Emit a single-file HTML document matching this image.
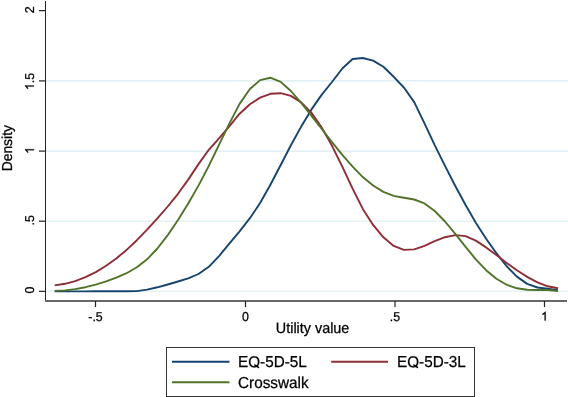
<!DOCTYPE html>
<html><head><meta charset="utf-8">
<title>Density of utility values</title>
<style>
html,body{margin:0;padding:0;background:#fff;}
body{width:568px;height:397px;overflow:hidden;}
svg{display:block;will-change:transform;}
text{text-rendering:geometricPrecision;font-family:"Liberation Sans",sans-serif;fill:#000;stroke:#000;stroke-width:0.25px;}
tspan.h{fill-opacity:0;stroke-opacity:0;}
path{fill:#000;stroke:#000;}
</style></head>
<body>
<svg width="568" height="397" viewBox="0 0 568 397">
<rect x="0" y="0" width="568" height="397" fill="#fff"/>
<g stroke="#d9ecef" stroke-width="1.1">
<line x1="46" y1="80.9" x2="568" y2="80.9"/>
<line x1="46" y1="151.1" x2="568" y2="151.1"/>
<line x1="46" y1="221.2" x2="568" y2="221.2"/>
<line x1="46" y1="291.3" x2="568" y2="291.3"/>
</g>
<g fill="none" stroke-width="1.9" stroke-linejoin="round" stroke-linecap="butt">
<polyline stroke="#15446f" points="54.7,291.4 65.0,291.4 75.2,291.4 85.5,291.4 95.8,291.3 106.1,291.3 116.3,291.3 126.6,291.3 136.9,291.1 147.1,289.6 157.4,287.3 167.7,284.5 178.0,281.5 188.2,278.4 198.5,274.0 208.8,266.8 219.0,256.1 229.3,243.7 239.6,231.3 249.9,218.2 260.1,203.0 270.4,184.8 280.7,165.0 290.9,145.3 301.2,126.6 311.5,109.4 321.8,94.6 332.0,82.0 342.3,68.5 352.6,59.0 362.8,58.0 373.1,60.6 383.4,66.8 393.7,76.8 403.9,87.5 414.2,102.1 424.5,123.3 434.7,145.1 445.0,165.9 455.3,186.0 465.6,205.0 475.8,222.7 486.1,238.7 496.4,253.2 506.6,266.1 516.9,276.6 527.2,283.9 537.5,287.5 547.7,288.8 558.0,290.1"/>
<polyline stroke="#8e2d37" points="54.7,285.4 65.0,283.8 75.2,281.1 85.5,277.2 95.8,272.1 106.1,265.8 116.3,258.4 126.6,249.9 136.9,240.2 147.1,229.6 157.4,218.3 167.7,206.5 178.0,193.8 188.2,179.6 198.5,164.1 208.8,149.8 219.0,138.4 229.3,126.3 239.6,113.7 249.9,104.3 260.1,97.6 270.4,93.8 280.7,93.2 290.9,95.9 301.2,102.4 311.5,112.9 321.8,127.6 332.0,145.8 342.3,166.6 352.6,188.6 362.8,208.9 373.1,224.9 383.4,237.3 393.7,245.9 403.9,249.9 414.2,249.4 424.5,245.8 434.7,241.2 445.0,237.2 455.3,235.1 465.6,236.1 475.8,240.6 486.1,247.4 496.4,255.1 506.6,262.9 516.9,270.3 527.2,276.9 537.5,282.4 547.7,286.3 558.0,288.2"/>
<polyline stroke="#517329" points="54.7,290.9 65.0,290.4 75.2,289.1 85.5,287.2 95.8,284.6 106.1,281.4 116.3,277.6 126.6,273.2 136.9,267.3 147.1,259.3 157.4,248.5 167.7,235.2 178.0,220.0 188.2,203.5 198.5,185.6 208.8,165.9 219.0,144.8 229.3,123.6 239.6,103.9 249.9,89.0 260.1,80.1 270.4,77.7 280.7,81.9 290.9,91.0 301.2,102.9 311.5,115.8 321.8,129.0 332.0,142.2 342.3,154.9 352.6,166.7 362.8,177.1 373.1,185.5 383.4,191.9 393.7,195.9 403.9,197.8 414.2,199.5 424.5,203.4 434.7,211.0 445.0,221.5 455.3,233.8 465.6,246.8 475.8,259.3 486.1,270.2 496.4,278.7 506.6,284.7 516.9,288.3 527.2,289.8 537.5,290.0 547.7,290.0 558.0,291.0"/>
</g>
<rect x="45" y="1" width="1" height="300" fill="#222"/>
<rect x="45" y="300" width="522" height="2" fill="#666"/>
<g stroke="#222" stroke-width="1.2">
<line x1="39" y1="10.6" x2="45" y2="10.6"/>
<line x1="39" y1="80.9" x2="45" y2="80.9"/>
<line x1="39" y1="151.1" x2="45" y2="151.1"/>
<line x1="39" y1="221.2" x2="45" y2="221.2"/>
<line x1="39" y1="291.3" x2="45" y2="291.3"/>
<line x1="95.5" y1="301" x2="95.5" y2="307"/>
<line x1="245.5" y1="301" x2="245.5" y2="307"/>
<line x1="395" y1="301" x2="395" y2="307"/>
<line x1="544.5" y1="301" x2="544.5" y2="307"/>
</g>
<g transform="translate(33.9,9.9) rotate(-90) scale(1,1.04)"><text x="-3.448" y="0" font-size="12.4">2</text></g>
<g transform="translate(33.9,81.5) rotate(-90) scale(1,1.04)"><text x="-8.619" y="0" font-size="12.4"><tspan class="h">1</tspan>.5</text><path d="M763 0H583V1147Q518 1085 412.5 1023T223 930V1104Q375 1175 489 1276T650 1466H763Z" transform="translate(-8.619,0) scale(0.006055,-0.005822)" stroke-width="41.3"/></g>
<g transform="translate(33.9,150.4) rotate(-90) scale(1,1.04)"><text x="-3.448" y="0" font-size="12.4"><tspan class="h">1</tspan></text><path d="M763 0H583V1147Q518 1085 412.5 1023T223 930V1104Q375 1175 489 1276T650 1466H763Z" transform="translate(-3.448,0) scale(0.006055,-0.005822)" stroke-width="41.3"/></g>
<g transform="translate(33.9,220.4) rotate(-90) scale(1,1.04)"><text x="-5.171" y="0" font-size="12.4">.5</text></g>
<g transform="translate(33.9,290.05) rotate(-90) scale(1,1.04)"><text x="-3.448" y="0" font-size="12.4">0</text></g>
<g transform="translate(12.4,148.2) rotate(-90) scale(1,1.04)"><text x="-23.175" y="0" font-size="13.9">Density</text></g>
<g transform="translate(95.5,320.6) scale(1,1.04)"><text x="-7.235" y="0" font-size="12.4">-.5</text></g>
<g transform="translate(245.5,320.6) scale(1,1.04)"><text x="-3.448" y="0" font-size="12.4">0</text></g>
<g transform="translate(395,320.6) scale(1,1.04)"><text x="-5.171" y="0" font-size="12.4">.5</text></g>
<g transform="translate(544.5,320.6) scale(1,1.04)"><text x="-3.448" y="0" font-size="12.4"><tspan class="h">1</tspan></text><path d="M763 0H583V1147Q518 1085 412.5 1023T223 930V1104Q375 1175 489 1276T650 1466H763Z" transform="translate(-3.448,0) scale(0.006055,-0.005822)" stroke-width="41.3"/></g>
<g transform="translate(275.8,333.3) scale(1,1.04)"><text x="0.000" y="0" font-size="14.4">Utility value</text></g>
<rect x="166.5" y="347.5" width="308" height="49" fill="none" stroke="#333" stroke-width="1"/>
<g stroke-width="2">
<line x1="172" y1="361.8" x2="229.5" y2="361.8" stroke="#15446f"/>
<line x1="331.2" y1="361.8" x2="388" y2="361.8" stroke="#8e2d37"/>
<line x1="172" y1="382.2" x2="229.5" y2="382.2" stroke="#517329"/>
</g>
<g transform="translate(238,367.3) scale(1,1.04)"><text x="0.000" y="0" font-size="15.3">E<tspan class="h">Q</tspan>-5D-5L</text><path d="M1495 711Q1495 490 1410.5 324.0Q1326 158 1168.0 69.0Q1010 -20 795 -20Q578 -20 420.5 68.0Q263 156 180.0 322.5Q97 489 97 711Q97 1049 282.0 1239.5Q467 1430 797 1430Q1012 1430 1170.0 1344.5Q1328 1259 1411.5 1096.0Q1495 933 1495 711ZM1300 711Q1300 974 1168.5 1124.0Q1037 1274 797 1274Q555 1274 423.0 1126.0Q291 978 291 711Q291 446 424.5 290.5Q558 135 795 135Q1039 135 1169.5 285.5Q1300 436 1300 711ZM784 268 L876 405 L1476 30 L1384 -107Z" transform="translate(10.205,0) scale(0.007471,-0.007471)" stroke-width="33.5"/></g>
<g transform="translate(397,367.3) scale(1,1.04)"><text x="0.000" y="0" font-size="15.3">E<tspan class="h">Q</tspan>-5D-3L</text><path d="M1495 711Q1495 490 1410.5 324.0Q1326 158 1168.0 69.0Q1010 -20 795 -20Q578 -20 420.5 68.0Q263 156 180.0 322.5Q97 489 97 711Q97 1049 282.0 1239.5Q467 1430 797 1430Q1012 1430 1170.0 1344.5Q1328 1259 1411.5 1096.0Q1495 933 1495 711ZM1300 711Q1300 974 1168.5 1124.0Q1037 1274 797 1274Q555 1274 423.0 1126.0Q291 978 291 711Q291 446 424.5 290.5Q558 135 795 135Q1039 135 1169.5 285.5Q1300 436 1300 711ZM784 268 L876 405 L1476 30 L1384 -107Z" transform="translate(10.205,0) scale(0.007471,-0.007471)" stroke-width="33.5"/></g>
<g transform="translate(238,388) scale(1,1.04)"><text x="0.000" y="0" font-size="15.3">Crosswalk</text></g>
</svg>
</body></html>
